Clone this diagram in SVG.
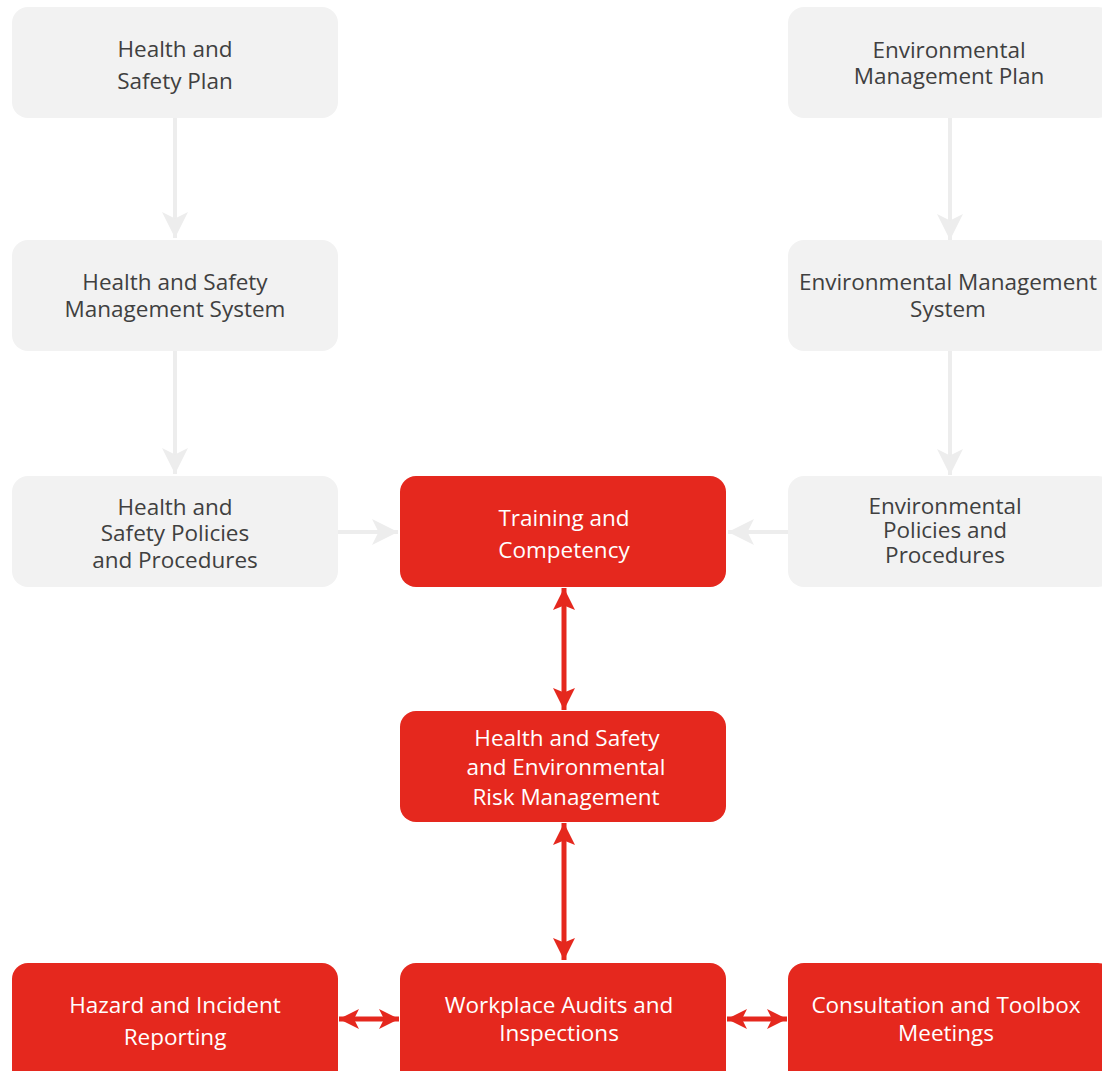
<svg xmlns="http://www.w3.org/2000/svg" width="1102" height="1071" viewBox="0 0 1102 1071">
<defs>
<style>
.g{fill:#F2F2F2}
.r{fill:#E5281E}
.gt{font-family:"Open Sans","Liberation Sans",sans-serif;font-size:22.5px;fill:#404040;text-anchor:middle}
.rt{font-family:"Open Sans","Liberation Sans",sans-serif;font-size:22.5px;fill:#FFFFFF;text-anchor:middle}
.gl{stroke:#EDEDED;stroke-width:4;fill:none}
.rl{stroke:#E5281E;stroke-width:5;fill:none}
</style>
<marker id="ga" viewBox="0 0 10 10" refX="10" refY="5" markerUnits="userSpaceOnUse" markerWidth="28" markerHeight="26" orient="auto">
<path d="M0,0 L10,5 L0,10 L2.5,5 Z" fill="#EDEDED"/>
</marker>
<marker id="ra" viewBox="0 0 10 10" refX="10" refY="5" markerUnits="userSpaceOnUse" markerWidth="32" markerHeight="22" orient="auto-start-reverse">
<path d="M0,0 L10,5 L0,10 L2,5 Z" fill="#E5281E"/>
</marker>
<marker id="rah" viewBox="0 0 10 10" refX="10" refY="5" markerUnits="userSpaceOnUse" markerWidth="22" markerHeight="20" orient="auto-start-reverse">
<path d="M0,0 L10,5 L0,10 L2.5,5 Z" fill="#E5281E"/>
</marker>
</defs>
<rect width="1102" height="1071" fill="#FFFFFF"/>
<g id="connectors">
<line class="gl" x1="175" y1="118" x2="175" y2="238" marker-end="url(#ga)"/>
<line class="gl" x1="175" y1="351" x2="175" y2="474" marker-end="url(#ga)"/>
<line class="gl" x1="950" y1="118" x2="950" y2="240" marker-end="url(#ga)"/>
<line class="gl" x1="950" y1="351" x2="950" y2="475" marker-end="url(#ga)"/>
<line class="gl" x1="338" y1="532" x2="398" y2="532" marker-end="url(#ga)"/>
<line class="gl" x1="788" y1="532" x2="728" y2="532" marker-end="url(#ga)"/>
<line class="rl" x1="564" y1="588" x2="564" y2="710" marker-start="url(#ra)" marker-end="url(#ra)"/>
<line class="rl" x1="564" y1="823" x2="564" y2="960" marker-start="url(#ra)" marker-end="url(#ra)"/>
<line class="rl" x1="339" y1="1019" x2="399" y2="1019" marker-start="url(#rah)" marker-end="url(#rah)"/>
<line class="rl" x1="727" y1="1019" x2="787" y2="1019" marker-start="url(#rah)" marker-end="url(#rah)"/>
</g>
<g id="hs-plan">
<rect class="g" x="12" y="7" width="326" height="111" rx="16"/>
<text class="gt" x="175" y="57">Health and</text>
<text class="gt" x="175" y="89">Safety Plan</text>
</g>
<g id="hs-ms">
<rect class="g" x="12" y="240" width="326" height="111" rx="16"/>
<text class="gt" x="175" y="290">Health and Safety</text>
<text class="gt" x="175" y="317">Management System</text>
</g>
<g id="hs-policies">
<rect class="g" x="12" y="476" width="326" height="111" rx="16"/>
<text class="gt" x="175" y="515">Health and</text>
<text class="gt" x="175" y="541">Safety Policies</text>
<text class="gt" x="175" y="568">and Procedures</text>
</g>
<g id="env-plan">
<rect class="g" x="788" y="7" width="326" height="111" rx="16"/>
<text class="gt" x="949" y="58">Environmental</text>
<text class="gt" x="949" y="84">Management Plan</text>
</g>
<g id="env-ms">
<rect class="g" x="788" y="240" width="326" height="111" rx="16"/>
<text class="gt" x="948" y="290">Environmental Management</text>
<text class="gt" x="948" y="317">System</text>
</g>
<g id="env-policies">
<rect class="g" x="788" y="476" width="326" height="111" rx="16"/>
<text class="gt" x="945" y="514">Environmental</text>
<text class="gt" x="945" y="538">Policies and</text>
<text class="gt" x="945" y="563">Procedures</text>
</g>
<g id="training">
<rect class="r" x="400" y="476" width="326" height="111" rx="16"/>
<text class="rt" x="564" y="526">Training and</text>
<text class="rt" x="564" y="558">Competency</text>
</g>
<g id="risk">
<rect class="r" x="400" y="711" width="326" height="111" rx="16"/>
<text class="rt" x="567" y="746">Health and Safety</text>
<text class="rt" x="566" y="775">and Environmental</text>
<text class="rt" x="566" y="805">Risk Management</text>
</g>
<g id="hazard">
<rect class="r" x="12" y="963" width="326" height="130" rx="16"/>
<text class="rt" x="175" y="1013">Hazard and Incident</text>
<text class="rt" x="175" y="1045">Reporting</text>
</g>
<g id="audits">
<rect class="r" x="400" y="963" width="326" height="130" rx="16"/>
<text class="rt" x="559" y="1013">Workplace Audits and</text>
<text class="rt" x="559" y="1041">Inspections</text>
</g>
<g id="consultation">
<rect class="r" x="788" y="963" width="326" height="130" rx="16"/>
<text class="rt" x="946" y="1013">Consultation and Toolbox</text>
<text class="rt" x="946" y="1041">Meetings</text>
</g>
</svg>
